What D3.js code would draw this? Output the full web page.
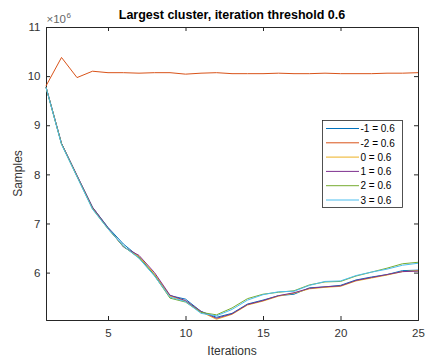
<!DOCTYPE html>
<html>
<head>
<meta charset="utf-8">
<script src="https://cdn.jsdelivr.net/npm/d3@7"></script>
<style>
  html, body { margin: 0; padding: 0; background: #fff; }
  svg { display: block; font-family: "Liberation Sans", Arial, Helvetica, sans-serif; }
</style>
</head>
<body>
<svg id="chart" width="428" height="360"></svg>
<script>
// Iteration index along the x axis
const iterations = [1,2,3,4,5,6,7,8,9,10,11,12,13,14,15,16,17,18,19,20,21,22,23,24,25];

// Largest-cluster sample counts, in millions (×10^6)
const samplesNeg1 = [9.78, 8.63, 7.97, 7.33, 6.92, 6.58, 6.32, 5.95, 5.53, 5.46, 5.21, 5.09, 5.17, 5.36, 5.44, 5.53, 5.56, 5.69, 5.71, 5.74, 5.85, 5.91, 5.96, 6.04, 6.05];
const samplesNeg2 = [9.80, 10.38, 9.97, 10.10, 10.07, 10.07, 10.06, 10.07, 10.07, 10.04, 10.06, 10.07, 10.05, 10.05, 10.05, 10.06, 10.05, 10.05, 10.06, 10.05, 10.05, 10.05, 10.06, 10.06, 10.07];
const samples0    = [9.78, 8.62, 7.96, 7.31, 6.90, 6.53, 6.33, 5.97, 5.52, 5.42, 5.20, 5.05, 5.15, 5.34, 5.42, 5.52, 5.58, 5.67, 5.70, 5.72, 5.83, 5.89, 5.95, 6.02, 6.04];
const samples1    = [9.78, 8.63, 7.98, 7.33, 6.91, 6.52, 6.35, 6.00, 5.54, 5.43, 5.21, 5.07, 5.16, 5.35, 5.43, 5.53, 5.59, 5.68, 5.71, 5.73, 5.84, 5.90, 5.96, 6.02, 6.03];
const samples2    = [9.77, 8.62, 7.96, 7.30, 6.89, 6.53, 6.30, 5.94, 5.48, 5.40, 5.19, 5.14, 5.28, 5.47, 5.56, 5.60, 5.63, 5.75, 5.81, 5.82, 5.93, 6.01, 6.09, 6.18, 6.21];
const samples3    = [9.77, 8.61, 7.95, 7.29, 6.89, 6.54, 6.29, 5.93, 5.50, 5.41, 5.17, 5.12, 5.25, 5.44, 5.55, 5.61, 5.62, 5.74, 5.82, 5.83, 5.94, 6.01, 6.07, 6.15, 6.19];

const seriesNames  = ["-1 = 0.6", "-2 = 0.6", "0 = 0.6", "1 = 0.6", "2 = 0.6", "3 = 0.6"];
const seriesColors = ["#0072BD", "#D95319", "#EDB120", "#7E2F8E", "#77AC30", "#4DBEEE"];
const seriesValues = [samplesNeg1, samplesNeg2, samples0, samples1, samples2, samples3];

const xTicks = [5, 10, 15, 20, 25];
const yTicks = [6, 7, 8, 9, 10, 11];

const svg = d3.select("#chart");
const plotLeft = 46, plotRight = 418, plotTop = 27, plotBottom = 320;
const axisColor = "#262626";

const x = d3.scaleLinear().domain([1, 25]).range([plotLeft, plotRight]);
const y = d3.scaleLinear().domain([5.035, 11]).range([plotBottom, plotTop]);

// Box axes with inward ticks on all four sides
const tick = 4;
svg.append("g").attr("transform", `translate(0,${plotBottom})`)
  .call(d3.axisBottom(x).tickValues(xTicks).tickSize(-tick).tickPadding(9).tickFormat(d3.format("d")));
svg.append("g").attr("transform", `translate(0,${plotTop})`)
  .call(d3.axisTop(x).tickValues(xTicks).tickSize(-tick).tickFormat(""));
svg.append("g").attr("transform", `translate(${plotLeft},0)`)
  .call(d3.axisLeft(y).tickValues(yTicks).tickSize(-tick).tickPadding(5.5).tickFormat(d3.format("d")));
svg.append("g").attr("transform", `translate(${plotRight},0)`)
  .call(d3.axisRight(y).tickValues(yTicks).tickSize(-tick).tickFormat(""));

svg.selectAll(".domain").attr("stroke", axisColor).attr("stroke-width", 1);
svg.selectAll(".tick line").attr("stroke", axisColor);
svg.selectAll(".tick text").attr("fill", "#333").style("font-size", "11.5px")
  .style("font-family", "'Liberation Sans', Arial, sans-serif");

// Series lines
const line = d3.line().x((d, i) => x(iterations[i])).y(d => y(d));
const plot = svg.append("g");
seriesValues.forEach((vals, k) => {
  plot.append("path")
    .datum(vals)
    .attr("fill", "none")
    .attr("stroke", seriesColors[k])
    .attr("stroke-width", 1)
    .attr("d", line);
});

// Exponent label
const expo = svg.append("text").attr("x", 46.5).attr("y", 23.3)
  .attr("fill", "#666").style("font-size", "11.5px");
expo.append("tspan").text("\u00d710");
expo.append("tspan").attr("dy", -5.5).attr("dx", 0.5).style("font-size", "8px").text("6");

// Title and axis labels
svg.append("text").attr("x", (plotLeft + plotRight) / 2).attr("y", 19.3)
  .attr("text-anchor", "middle").attr("font-weight", "bold")
  .style("font-size", "12.5px").attr("fill", "#000")
  .text("Largest cluster, iteration threshold 0.6");
svg.append("text").attr("x", (plotLeft + plotRight) / 2).attr("y", 355)
  .attr("text-anchor", "middle").style("font-size", "12px").attr("fill", "#333")
  .text("Iterations");
svg.append("text").attr("transform", `translate(21.5,${(plotTop + plotBottom) / 2}) rotate(-90)`)
  .attr("text-anchor", "middle").style("font-size", "12px").attr("fill", "#333")
  .text("Samples");

// Legend
const lg = svg.append("g");
lg.append("rect").attr("x", 322.5).attr("y", 120.5).attr("width", 80).attr("height", 87)
  .attr("fill", "#fff").attr("stroke", axisColor).attr("stroke-width", 0.8);
seriesNames.forEach((name, k) => {
  const yy = 128.5 + k * 14.3;
  lg.append("line").attr("x1", 326).attr("x2", 359).attr("y1", yy).attr("y2", yy)
    .attr("stroke", seriesColors[k]).attr("stroke-width", 1);
  lg.append("text").attr("x", 360.5).attr("y", yy + 3.7)
    .style("font-size", "10px").attr("fill", "#000").text(name);
});
</script>
</body>
</html>
